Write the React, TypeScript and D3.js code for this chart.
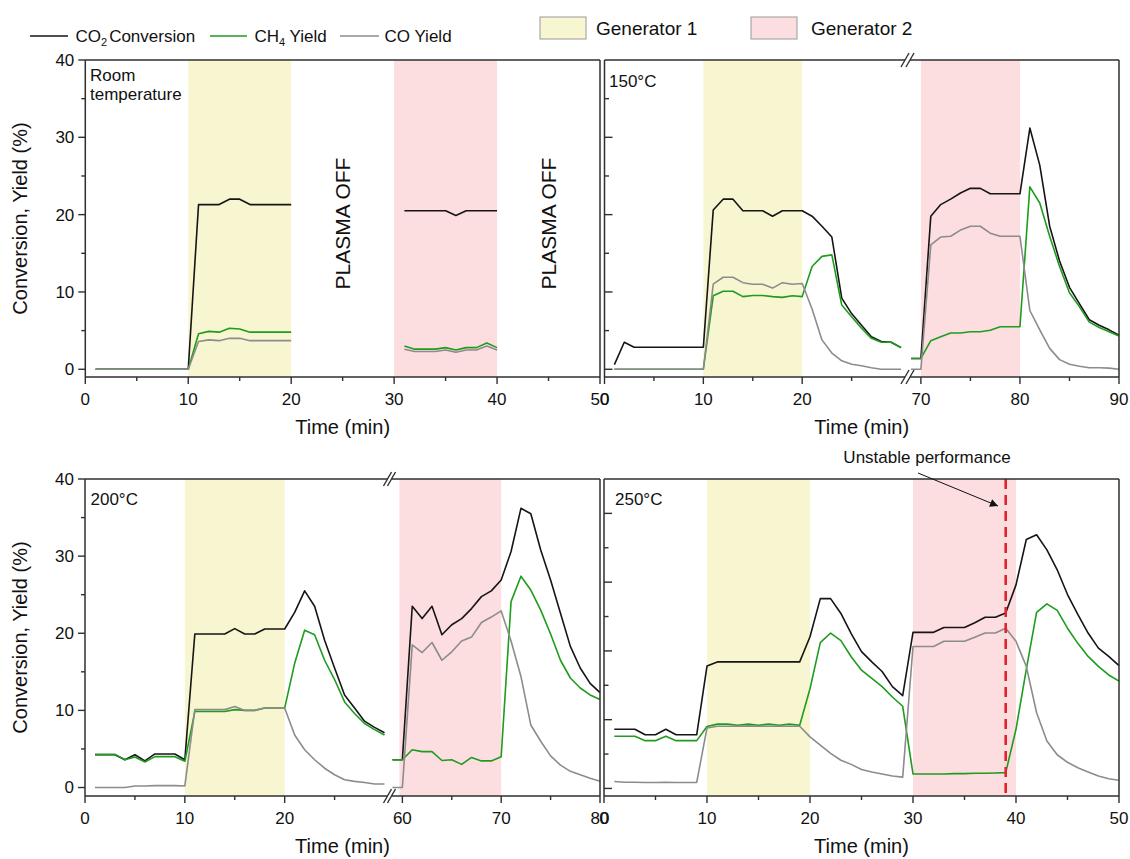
import * as d3 from "d3";

const width = 1130;
const height = 859;
const font = "'Liberation Sans', Arial, Helvetica, sans-serif";

const co2Color = "#151515";
const ch4Color = "#1e9c1e";
const coColor = "#8c8c8c";
const gen1Color = "#f8f5d1";
const gen2Color = "#fcdde0";
const axisColor = "#2f2f2f";

// ---- Room temperature (min, %) ----
const rtTime = [1, 2, 3, 4, 5, 6, 7, 8, 9, 10, 11, 12, 13, 14, 15, 16, 17, 18, 19, 20, 31, 32, 33, 34, 35, 36, 37, 38, 39, 40];
const rtCO2 = [0, 0, 0, 0, 0, 0, 0, 0, 0, 0, 21.3, 21.3, 21.3, 22.0, 22.0, 21.3, 21.3, 21.3, 21.3, 21.3, 20.5, 20.5, 20.5, 20.5, 20.5, 19.9, 20.5, 20.5, 20.5, 20.5];
const rtCH4 = [0, 0, 0, 0, 0, 0, 0, 0, 0, 0, 4.6, 4.9, 4.8, 5.3, 5.2, 4.8, 4.8, 4.8, 4.8, 4.8, 3.0, 2.6, 2.6, 2.6, 2.8, 2.5, 2.8, 2.8, 3.4, 2.8];
const rtCO = [0, 0, 0, 0, 0, 0, 0, 0, 0, 0, 3.6, 3.8, 3.7, 4.0, 4.0, 3.7, 3.7, 3.7, 3.7, 3.7, 2.6, 2.3, 2.3, 2.3, 2.5, 2.2, 2.5, 2.5, 3.0, 2.5];

// ---- 150 °C ----
const t150 = [1, 2, 3, 4, 5, 6, 7, 8, 9, 10, 11, 12, 13, 14, 15, 16, 17, 18, 19, 20, 21, 22, 23, 24, 25, 26, 27, 28, 29, 30,
  69, 70, 71, 72, 73, 74, 75, 76, 77, 78, 79, 80, 81, 82, 83, 84, 85, 86, 87, 88, 89, 90];
const co2_150 = [0.6, 3.5, 2.85, 2.85, 2.85, 2.85, 2.85, 2.85, 2.85, 2.85, 20.6, 22.0, 22.0, 20.5, 20.5, 20.5, 19.8, 20.5, 20.5, 20.5,
  19.8, 18.5, 17.1, 9.2, 7.2, 5.7, 4.2, 3.6, 3.5, 2.8,
  1.4, 1.4, 19.8, 21.3, 22.0, 22.8, 23.4, 23.4, 22.7, 22.7, 22.7, 22.7, 31.2, 26.4, 18.5, 14.0, 10.6, 8.5, 6.4, 5.7, 5.1, 4.4];
const ch4_150 = [0, 0, 0, 0, 0, 0, 0, 0, 0, 0, 9.5, 10.1, 10.1, 9.4, 9.55, 9.55, 9.4, 9.3, 9.5, 9.4,
  13.3, 14.6, 14.8, 8.3, 6.8, 5.3, 4.0, 3.5, 3.5, 2.8,
  1.4, 1.4, 3.7, 4.2, 4.7, 4.7, 4.85, 4.85, 5.05, 5.5, 5.5, 5.5, 23.6, 21.5, 17.2, 13.3, 9.9, 8.1, 6.1, 5.4, 4.85, 4.3];
const co_150 = [0, 0, 0, 0, 0, 0, 0, 0, 0, 0, 11.0, 11.9, 11.9, 11.2, 11.0, 11.0, 10.5, 11.2, 11.0, 11.1,
  7.8, 3.8, 2.1, 1.1, 0.65, 0.45, 0.2, 0, 0, 0,
  0, 0, 16.1, 17.1, 17.2, 18.0, 18.5, 18.5, 17.6, 17.2, 17.2, 17.2, 7.6, 5.1, 2.7, 1.25, 0.65, 0.4, 0.2, 0.2, 0.15, 0];

// ---- 200 °C ----
const t200 = [1, 2, 3, 4, 5, 6, 7, 8, 9, 10, 11, 12, 13, 14, 15, 16, 17, 18, 19, 20, 21, 22, 23, 24, 25, 26, 27, 28, 29, 30,
  59, 60, 61, 62, 63, 64, 65, 66, 67, 68, 69, 70, 71, 72, 73, 74, 75, 76, 77, 78, 79, 80];
const co2_200 = [4.25, 4.25, 4.25, 3.6, 4.25, 3.45, 4.35, 4.35, 4.35, 3.6, 19.9, 19.9, 19.9, 19.9, 20.6, 19.9, 19.9, 20.55, 20.55, 20.55,
  22.7, 25.5, 23.5, 19.1, 15.5, 12.0, 10.3, 8.6, 7.8, 7.1,
  3.6, 3.6, 23.5, 21.9, 23.5, 19.8, 21.1, 21.9, 23.2, 24.75, 25.5, 26.9, 30.6, 36.2, 35.5, 30.8, 26.9, 22.6, 18.3, 15.5, 13.5, 12.3];
const ch4_200 = [4.3, 4.3, 4.3, 3.6, 3.95, 3.3, 4.0, 4.0, 4.0, 3.4, 9.85, 9.85, 9.85, 9.85, 10.1, 10.0, 10.0, 10.3, 10.3, 10.3,
  16.1, 20.4, 19.8, 16.5, 14.0, 11.1, 9.6, 8.3, 7.5, 6.8,
  3.6, 3.6, 4.9, 4.65, 4.65, 3.5, 3.6, 3.0, 3.9, 3.45, 3.45, 4.0, 24.1, 27.4, 25.6, 23.0, 19.9, 16.5, 14.2, 12.9, 12.0, 11.4];
const co_200 = [0, 0, 0, 0, 0.2, 0.2, 0.25, 0.25, 0.25, 0.2, 10.1, 10.1, 10.1, 10.1, 10.5, 10.0, 10.0, 10.3, 10.3, 10.3,
  6.8, 4.9, 3.6, 2.5, 1.65, 1.0, 0.8, 0.65, 0.45, 0.45,
  0, 0, 18.5, 17.5, 18.8, 16.5, 17.6, 19.0, 19.5, 21.4, 22.1, 22.9, 19.0, 14.4, 8.1, 6.0, 4.1, 2.9, 2.1, 1.65, 1.2, 0.8];

// ---- 250 °C ----
const t250 = [1, 2, 3, 4, 5, 6, 7, 8, 9, 10, 11, 12, 13, 14, 15, 16, 17, 18, 19, 20, 21, 22, 23, 24, 25,
  26, 27, 28, 29, 30, 31, 32, 33, 34, 35, 36, 37, 38, 39, 40, 41, 42, 43, 44, 45, 46, 47, 48, 49, 50];
const co2_250 = [8.6, 8.6, 8.6, 7.8, 7.8, 8.6, 7.8, 7.8, 7.8, 17.8, 18.4, 18.4, 18.4, 18.4, 18.4, 18.4, 18.4, 18.4, 18.4, 22.05,
  27.6, 27.6, 25.45, 22.5, 19.9, 18.4, 17.0, 14.8, 13.5, 22.7, 22.7, 22.7, 23.4, 23.4, 23.4, 24.1, 24.9, 24.9, 25.5, 29.6,
  36.2, 36.9, 34.7, 31.8, 28.2, 25.3, 22.6, 20.4, 19.2, 17.85];
const ch4_250 = [7.6, 7.6, 7.6, 6.95, 6.95, 7.6, 6.95, 6.95, 6.95, 9.0, 9.35, 9.35, 9.2, 9.35, 9.2, 9.35, 9.2, 9.35, 9.2, 14.5,
  21.2, 22.6, 21.5, 19.15, 17.2, 16.0, 14.8, 13.3, 11.95, 2.1, 2.1, 2.1, 2.1, 2.15, 2.15, 2.2, 2.2, 2.25, 2.3, 8.6,
  17.3, 25.6, 26.85, 25.9, 23.3, 21.1, 19.2, 17.75, 16.5, 15.6];
const co_250 = [1.0, 0.9, 0.9, 0.87, 0.87, 0.9, 0.87, 0.87, 0.87, 8.8, 9.05, 9.05, 9.05, 9.1, 9.05, 9.05, 9.05, 9.05, 9.05, 7.5,
  6.3, 5.1, 4.1, 3.5, 2.75, 2.4, 2.1, 1.8, 1.65, 20.65, 20.65, 20.65, 21.4, 21.4, 21.4, 22.0, 22.6, 22.6, 23.3, 21.4,
  17.75, 11.0, 6.9, 4.9, 3.8, 3.0, 2.4, 1.8, 1.4, 1.2];

// ---- ticks ----
const xMajorFull = [0, 10, 20, 30, 40, 50];
const xMinorFull = [5, 15, 25, 35, 45];
const xMajorLow = [0, 10, 20];
const xMinorLow = [5, 15, 25];
const xMajor150 = [70, 80, 90];
const xMinor150 = [75, 85];
const xMajor200 = [60, 70, 80];
const xMinor200 = [65, 75];
const yMajor = [0, 10, 20, 30, 40];
const yMinor = [5, 15, 25, 35];

const seriesColors = [co2Color, ch4Color, coColor];

type Seg = { domain: [number, number]; range: [number, number]; major: number[]; minor: number[] };
type Band = { from: number; to: number; fill: string };
type PanelCfg = {
  segs: Seg[];
  yDomain: [number, number];
  yRange: [number, number];
  side: "left" | "right";
  time: number[];
  series: number[][];
  bands: Band[];
  title: string[];
  titleX: number;
  titleY: number;
  plasmaOff?: number[];
  unstable?: number;
};

const panels: PanelCfg[] = [
  {
    segs: [{ domain: [0, 50], range: [85.3, 600], major: xMajorFull, minor: xMinorFull }],
    yDomain: [-1, 40], yRange: [377, 60], side: "left",
    time: rtTime, series: [rtCO2, rtCH4, rtCO],
    bands: [{ from: 10, to: 20, fill: gen1Color }, { from: 30, to: 40, fill: gen2Color }],
    title: ["Room", "temperature"], titleX: 90, titleY: 81,
    plasmaOff: [25, 45],
  },
  {
    segs: [
      { domain: [0, 30.4], range: [604.5, 905], major: xMajorLow, minor: xMinorLow },
      { domain: [68.9, 90], range: [910, 1119], major: xMajor150, minor: xMinor150 },
    ],
    yDomain: [-1, 40], yRange: [377, 60], side: "right",
    time: t150, series: [co2_150, ch4_150, co_150],
    bands: [{ from: 10, to: 20, fill: gen1Color }, { from: 70, to: 80, fill: gen2Color }],
    title: ["150°C"], titleX: 609, titleY: 87,
  },
  {
    segs: [
      { domain: [0, 30.3], range: [85, 387.5], major: xMajorLow, minor: xMinorLow },
      { domain: [58.9, 80], range: [391.5, 600], major: xMajor200, minor: xMinor200 },
    ],
    yDomain: [-1.1, 40], yRange: [796, 479], side: "left",
    time: t200, series: [co2_200, ch4_200, co_200],
    bands: [{ from: 10, to: 20, fill: gen1Color }, { from: 59.7, to: 70, fill: gen2Color }],
    title: ["200°C"], titleX: 90.5, titleY: 505,
  },
  {
    segs: [{ domain: [0, 50], range: [604, 1119], major: xMajorFull, minor: xMinorFull }],
    yDomain: [-1.1, 45], yRange: [796, 479], side: "right",
    time: t250, series: [co2_250, ch4_250, co_250],
    bands: [{ from: 10, to: 20, fill: gen1Color }, { from: 30, to: 40, fill: gen2Color }],
    title: ["250°C"], titleX: 615, titleY: 505,
    unstable: 39,
  },
];

type Pt = { t: number; v: number };

function Panel({ p }: { p: PanelCfg }) {
  const y = d3.scaleLinear().domain(p.yDomain).range(p.yRange);
  const [yb, yt] = p.yRange;
  const segs = p.segs.map((s) => ({ ...s, x: d3.scaleLinear().domain(s.domain).range(s.range) }));
  const x0 = segs[0].range[0];
  const x1 = segs[segs.length - 1].range[1];
  const segFor = (t: number) => segs.find((s) => t >= s.domain[0] && t <= s.domain[1]) || segs[0];

  const paths: { d: string; color: string }[] = [];
  p.series.forEach((vals, si) => {
    segs.forEach((s) => {
      const line = d3.line<Pt>().x((d) => s.x(d.t)).y((d) => y(d.v));
      const runs: Pt[][] = [];
      let prev: number | null = null;
      p.time.forEach((t, i) => {
        if (t < s.domain[0] || t > s.domain[1]) return;
        if (prev === null || t - prev > 1.5) runs.push([]);
        runs[runs.length - 1].push({ t, v: vals[i] });
        prev = t;
      });
      runs.forEach((r) => paths.push({ d: line(r) || "", color: seriesColors[si] }));
    });
  });

  const tickY = p.yDomain[1] > 40 ? [...yMajor, ...yMinor] : [...yMajor.filter((v) => v < 40 || p.side === "left"), ...yMinor];

  return (
    <g>
      {p.bands.map((b, i) => {
        const s = segFor(b.from);
        return <rect key={i} x={s.x(b.from)} y={yt} width={s.x(b.to) - s.x(b.from)} height={yb - yt} fill={b.fill} />;
      })}
      {paths.map((pa, i) => (
        <path key={i} d={pa.d} fill="none" stroke={pa.color} strokeWidth={1.6} strokeLinejoin="round" />
      ))}
      {p.plasmaOff &&
        p.plasmaOff.map((t) => (
          <text key={t} transform={`translate(${segs[0].x(t) + 7.5},${(yt + yb) / 2 + 5}) rotate(-90)`}
            textAnchor="middle" fontSize={21} fontFamily={font} fill="#111">PLASMA OFF</text>
        ))}
      {p.unstable !== undefined && (
        <line x1={segs[0].x(p.unstable)} x2={segs[0].x(p.unstable)} y1={yt} y2={yb}
          stroke="#e3242b" strokeWidth={2.6} strokeDasharray="10 6" />
      )}
      {/* frame */}
      <line x1={x0} x2={x0} y1={yt} y2={yb} stroke={axisColor} strokeWidth={1.5} />
      <line x1={x1} x2={x1} y1={yt} y2={yb} stroke={axisColor} strokeWidth={1.5} />
      {segs.map((s, i) => (
        <g key={i}>
          <line x1={s.range[0]} x2={s.range[1]} y1={yb} y2={yb} stroke={axisColor} strokeWidth={1.5} />
          <line x1={s.range[0]} x2={s.range[1]} y1={yt} y2={yt} stroke={axisColor} strokeWidth={1.5} />
          {s.major.map((t) => (
            <g key={t}>
              <line x1={s.x(t)} x2={s.x(t)} y1={yb} y2={yb + 7} stroke={axisColor} strokeWidth={1.4} />
              <text x={s.x(t)} y={yb + 28} textAnchor="middle" fontSize={17} fontFamily={font} fill="#111">{t}</text>
            </g>
          ))}
          {s.minor.map((t) => (
            <line key={t} x1={s.x(t)} x2={s.x(t)} y1={yb} y2={yb + 4} stroke={axisColor} strokeWidth={1.4} />
          ))}
        </g>
      ))}
      {segs.length > 1 &&
        [segs[0].range[1], segs[1].range[0]].map((bx) =>
          [yb, yt].map((by) => (
            <line key={`${bx}-${by}`} x1={bx - 4} y1={by + 7} x2={bx + 4} y2={by - 7} stroke={axisColor} strokeWidth={1.4} />
          ))
        )}
      {tickY.map((v) => {
        const major = yMajor.includes(v);
        const len = major ? 7 : 4;
        const dir = p.side === "left" ? -1 : 1;
        return <line key={v} x1={x0} x2={x0 + dir * (p.side === "left" ? len : major ? 8 : 4.5)} y1={y(v)} y2={y(v)} stroke={axisColor} strokeWidth={1.4} />;
      })}
      {p.side === "left" &&
        yMajor.map((v) => (
          <text key={v} x={x0 - 11} y={y(v)} dy="0.35em" textAnchor="end" fontSize={17} fontFamily={font} fill="#111">{v}</text>
        ))}
      {p.title.map((s, i) => (
        <text key={i} x={p.titleX} y={p.titleY + i * 19} fontSize={17} fontFamily={font} fill="#111">{s}</text>
      ))}
      <text x={(x0 + x1) / 2} y={yb + 57} textAnchor="middle" fontSize={20} fontFamily={font} fill="#111">Time (min)</text>
      {p.side === "left" && (
        <text transform={`translate(27,${(yt + yb) / 2}) rotate(-90)`} textAnchor="middle" fontSize={20} fontFamily={font} fill="#111">
          Conversion, Yield (%)
        </text>
      )}
    </g>
  );
}

const legendLines = [
  { x1: 30, x2: 68, tx: 75.5, color: co2Color, main: "CO", sub: "2", rest: "Conversion" },
  { x1: 210, x2: 247, tx: 254.5, color: ch4Color, main: "CH", sub: "4", rest: " Yield" },
  { x1: 340, x2: 379, tx: 384.5, color: coColor, main: "CO Yield", sub: "", rest: "" },
];
const legendBoxes = [
  { x: 540, tx: 596, fill: gen1Color, label: "Generator 1" },
  { x: 751, tx: 811, fill: gen2Color, label: "Generator 2" },
];

export default function App() {
  return (
    <svg width={width} height={height} style={{ position: "absolute", left: 0, top: 0, background: "#fff" }}>
      <defs>
        <marker id="arrow" viewBox="0 0 10 10" refX="10" refY="5" markerWidth="10" markerHeight="8" orient="auto" markerUnits="userSpaceOnUse">
          <path d="M0,0 L10,5 L0,10 z" fill="#111" />
        </marker>
      </defs>
      {panels.map((p, i) => <Panel key={i} p={p} />)}
      {legendLines.map((l) => (
        <g key={l.tx}>
          <line x1={l.x1} x2={l.x2} y1={36} y2={36} stroke={l.color} strokeWidth={1.6} />
          <text x={l.tx} y={42} fontSize={17} fontFamily={font} fill="#111">
            {l.main}
            {l.sub && <tspan fontSize={11} dy={4}>{l.sub}</tspan>}
            {l.rest && <tspan dy={l.sub ? -4 : 0} dx={l.sub && l.rest[0] !== " " ? 2 : 0}>{l.rest}</tspan>}
          </text>
        </g>
      ))}
      {legendBoxes.map((b) => (
        <g key={b.label}>
          <rect x={b.x} y={17} width={46} height={22} fill={b.fill} stroke="#9a9a9a" strokeWidth={1} />
          <text x={b.tx} y={35} fontSize={19} fontFamily={font} fill="#111">{b.label}</text>
        </g>
      ))}
      <text x={927} y={463} textAnchor="middle" fontSize={17} fontFamily={font} fill="#111">Unstable performance</text>
      <line x1={918} y1={473} x2={998} y2={506} stroke="#111" strokeWidth={1} markerEnd="url(#arrow)" />
    </svg>
  );
}
